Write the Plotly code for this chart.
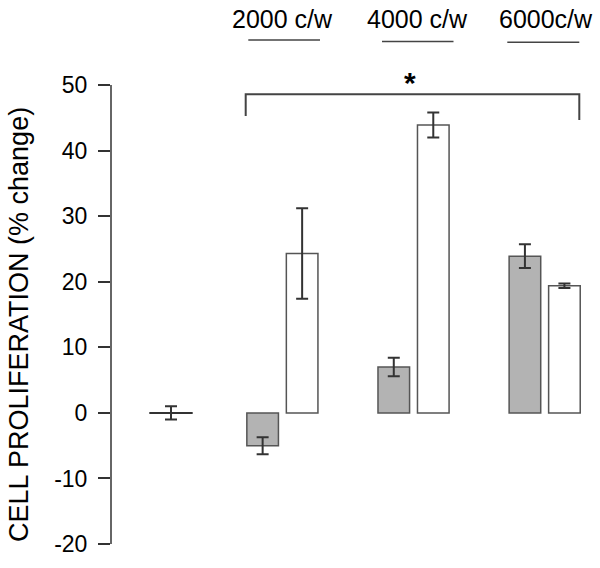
import plotly.graph_objects as go

# ---- data ----
groups = ["2000 c/w", "4000 c/w", "6000c/w"]
gray_vals = [-5.0, 7.0, 23.9]
gray_err = [1.3, 1.4, 1.8]
white_vals = [24.3, 43.9, 19.4]
white_err = [6.9, 1.9, 0.35]
control_val = [0.0]
control_err = [1.0]
y_ticks = [-20, -10, 0, 10, 20, 30, 40, 50]
y_ticktext = ["-20", "-10", "0", "10", "20", "30", "40", "50"]
y_title = "CELL PROLIFERATION (% change)"

# ---- layout geometry (page pixels) ----
W, H = 600, 568
L = 111                          # axis line position
X0_PX, UNIT = 171.0, 39.5        # pixel of x=0 and pixels per x unit
Y50_PX, Y0_PX = 85.0, 412.9      # pixel rows of y=50 and y=0
PPU = (Y0_PX - Y50_PX) / 50.0


def px_x(p):
    return (p - X0_PX) / UNIT


def px_y(p):
    return (Y0_PX - p) / PPU


group_centers = [2.82, 6.14, 9.46]
gray_x = [c - 0.5 for c in group_centers]
white_x = [c + 0.5 for c in group_centers]

err_color = "#333333"
edge = "#555555"

fig = go.Figure()
fig.add_trace(go.Bar(
    x=gray_x, y=gray_vals, width=0.8,
    marker=dict(color="#b3b3b3", line=dict(color=edge, width=1.5)),
    error_y=dict(type="data", array=gray_err, color=err_color, thickness=2, width=6),
    showlegend=False))
fig.add_trace(go.Bar(
    x=white_x, y=white_vals, width=0.8,
    marker=dict(color="white", line=dict(color=edge, width=1.5)),
    error_y=dict(type="data", array=white_err, color=err_color, thickness=2, width=6),
    showlegend=False))
fig.add_trace(go.Scatter(
    x=[0], y=control_val, mode="markers",
    marker=dict(symbol="line-ew", size=31, line=dict(color=err_color, width=2)),
    error_y=dict(type="data", array=control_err, color=err_color, thickness=2, width=6),
    showlegend=False))

# y axis line spanning only the tick range
fig.add_shape(type="line", xref="paper", yref="y", x0=0, x1=0,
              y0=min(y_ticks), y1=max(y_ticks), line=dict(color=err_color, width=1.5))

# significance bracket
xl, xr = px_x(245.7), px_x(579.3)
yt, yl, yr = px_y(94.3), px_y(116), px_y(120)
fig.add_shape(type="path", xref="x", yref="y",
              path=f"M {xl},{yl} L {xl},{yt} L {xr},{yt} L {xr},{yr}",
              line=dict(color="#444444", width=2))
fig.add_annotation(x=px_x(410), y=px_y(82), text="<b>*</b>", showarrow=False,
                   font=dict(size=30, color="black", family="Liberation Sans"),
                   xanchor="center", yanchor="middle")

# group labels and underlines
label_px = [282, 417, 546]
line_px = [(248.3, 320), (382, 453.5), (507.3, 579.3)]
line_y = [40, 41.5, 42.3]
for g, lp, (a, b), ly in zip(groups, label_px, line_px, line_y):
    fig.add_annotation(x=px_x(lp), y=px_y(19), text=g, showarrow=False,
                       font=dict(size=25, color="black", family="Liberation Sans"),
                       xanchor="center", yanchor="middle")
    fig.add_shape(type="line", xref="x", yref="y", x0=px_x(a), x1=px_x(b),
                  y0=px_y(ly), y1=px_y(ly), line=dict(color="#444444", width=1.5))

# y title
fig.add_annotation(xref="paper", yref="paper", x=(19 - L) / (W - L),
                   y=1 - 325 / H,
                   text=y_title, textangle=-90, showarrow=False,
                   font=dict(size=27, color="black", family="Liberation Sans"),
                   xanchor="center", yanchor="middle")

fig.update_layout(
    width=W, height=H,
    margin=dict(l=L, r=0, t=0, b=0),
    paper_bgcolor="white", plot_bgcolor="white",
    barmode="overlay",
    xaxis=dict(range=[px_x(L), px_x(W)], visible=False, fixedrange=True),
    yaxis=dict(range=[px_y(H), px_y(0)], tickvals=y_ticks, ticktext=y_ticktext,
               ticks="outside", ticklen=12, tickwidth=1.5, tickcolor=err_color,
               showline=False, showgrid=False, zeroline=False, ticklabelstandoff=6,
               tickfont=dict(size=23, color="black", family="Liberation Sans")),
    font=dict(family="Liberation Sans"),
)

fig.write_html("out.html",
               config={"displayModeBar": False},
               post_script="document.body.style.margin='0';document.body.style.overflow='hidden';")
